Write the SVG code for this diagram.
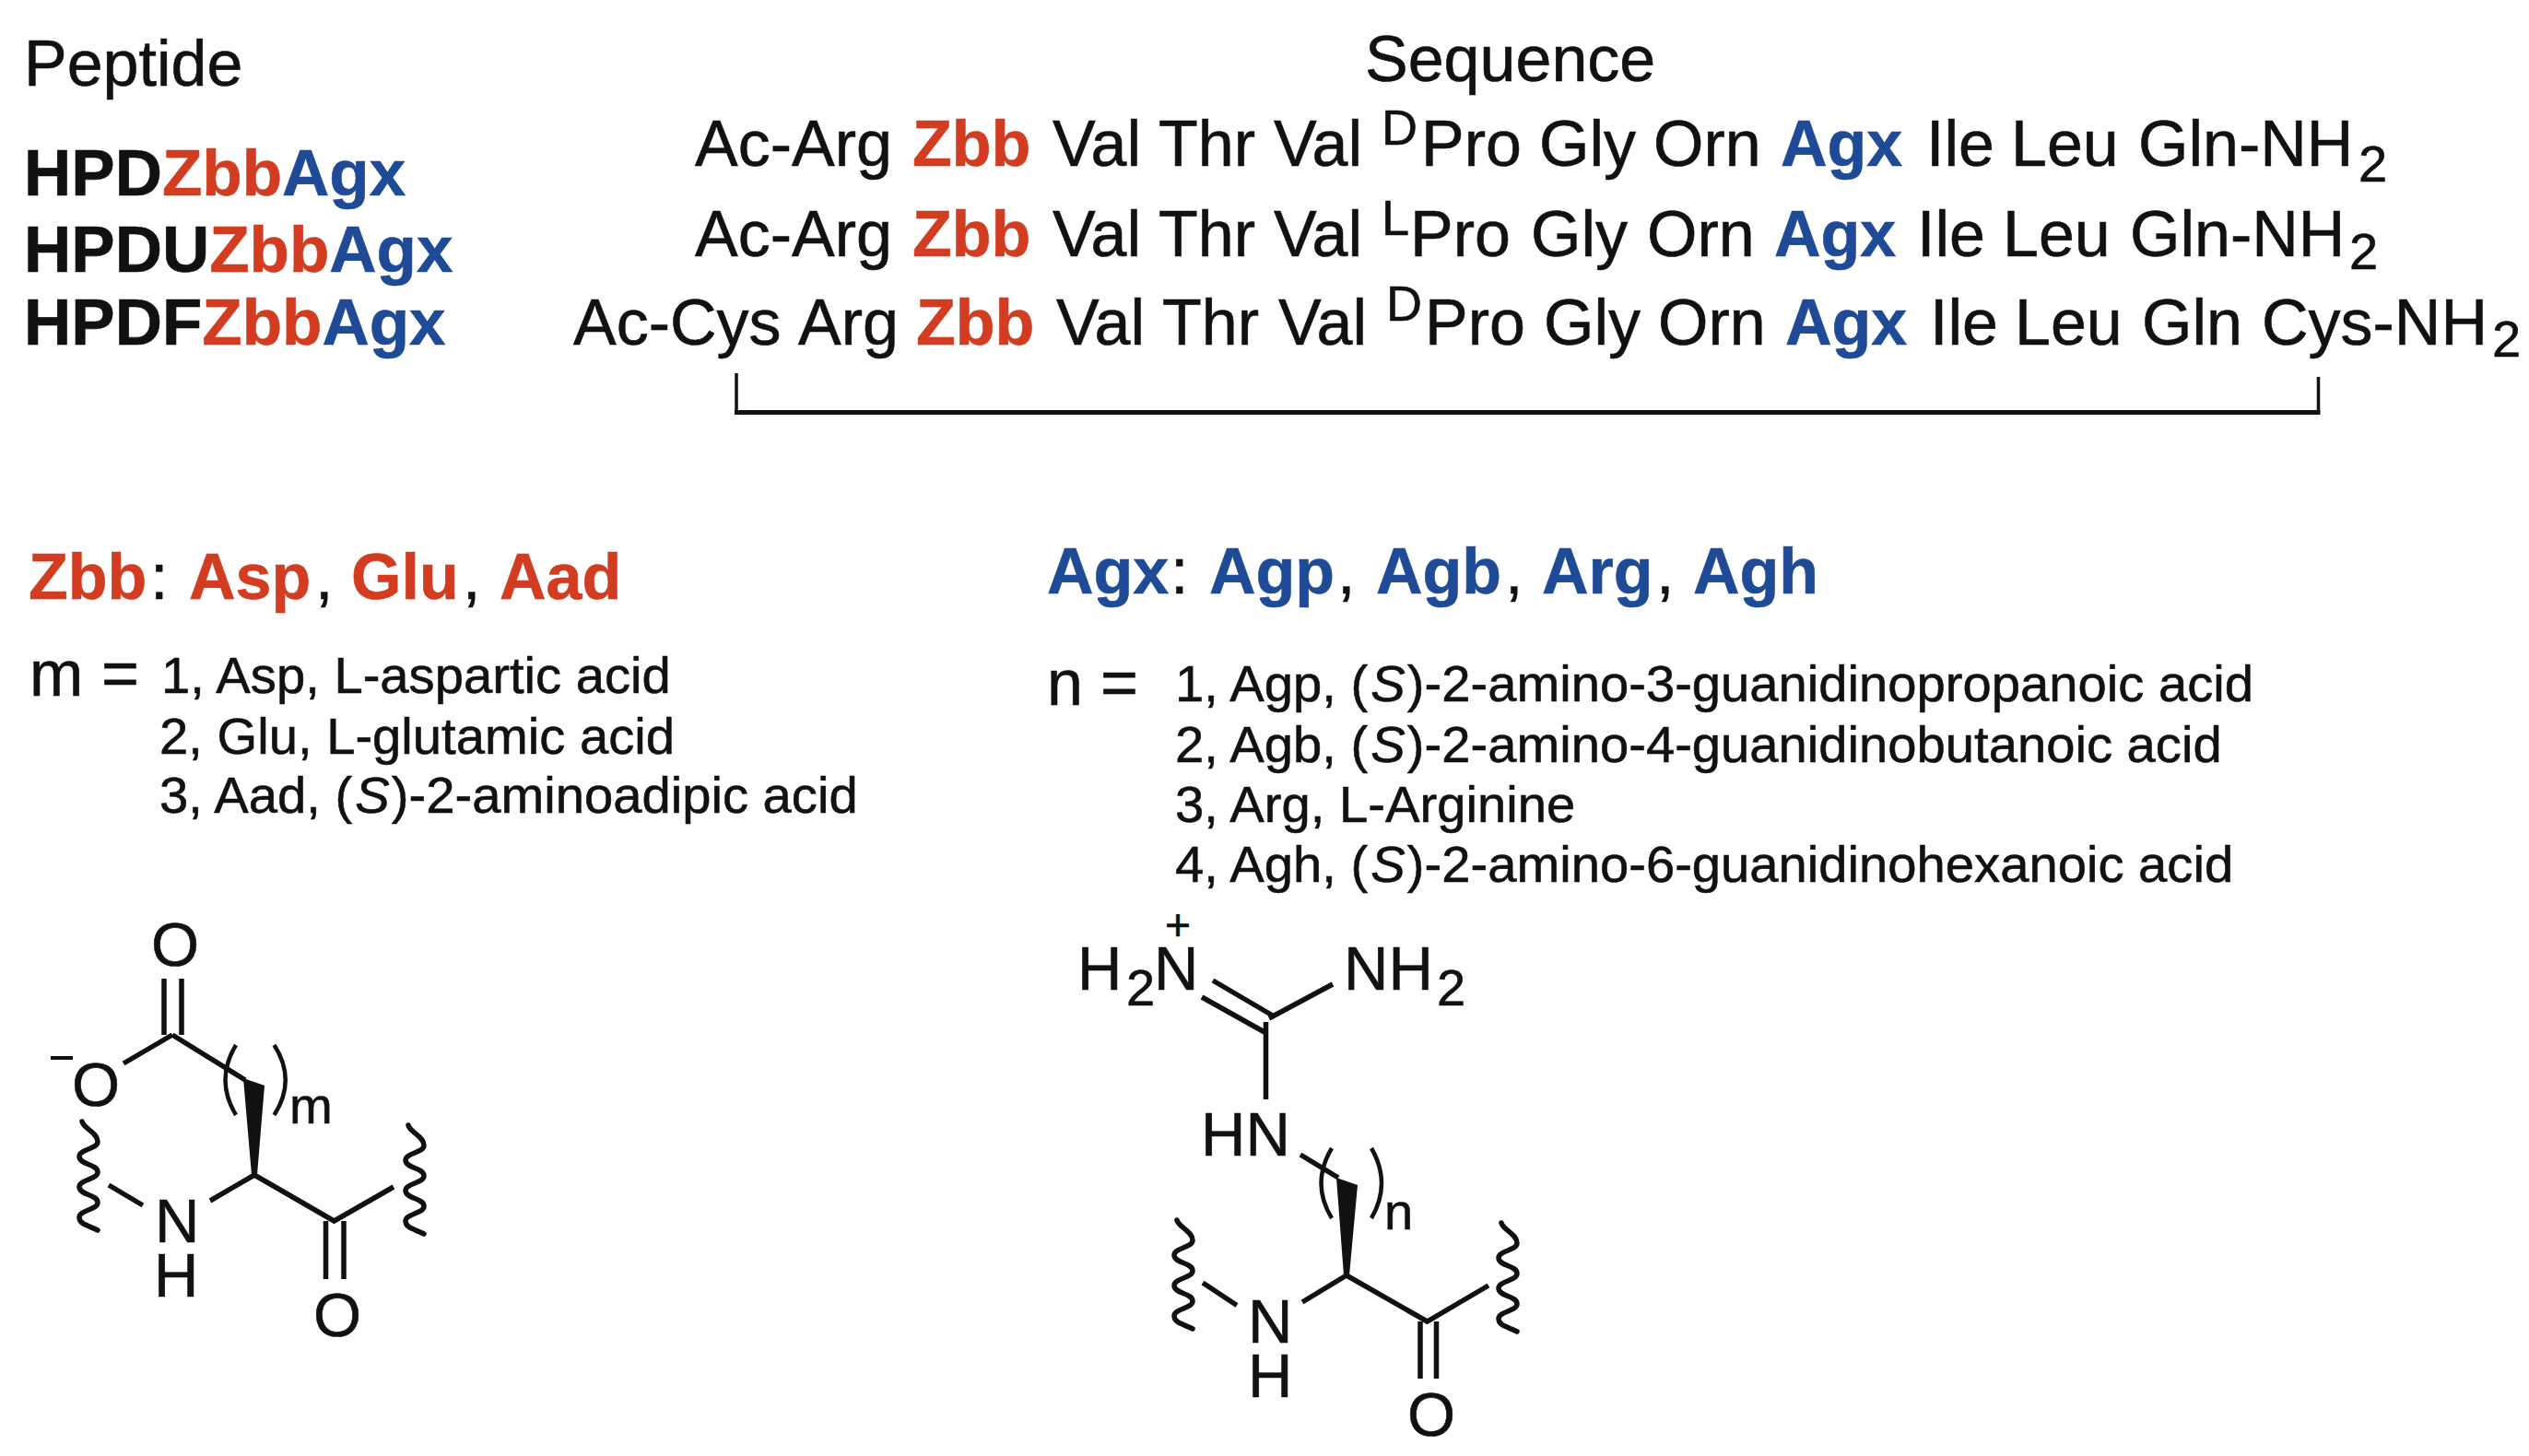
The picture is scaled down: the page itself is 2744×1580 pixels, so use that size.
<svg xmlns="http://www.w3.org/2000/svg" width="2744" height="1580" viewBox="0 0 2744 1580">
<defs>
<style>
text{font-family:"Liberation Sans",Arial,sans-serif;fill:#111;stroke:#111;stroke-width:.6}
.h{font-size:70px}
.b{font-size:71px;font-weight:700}
.r{fill:#D23C20;stroke:#D23C20;font-weight:700}
.u{fill:#1F4A96;stroke:#1F4A96;font-weight:700}
.s{font-size:70px}
.sup{font-size:54px}
.t{font-size:56.2px}
.a{font-size:67px}
.sub{font-size:56px}
.bond{stroke:#111;stroke-width:5.5;fill:none}
.paren{stroke:#111;stroke-width:4.5;fill:none}
.wav{stroke:#111;stroke-width:5.5;fill:none;stroke-linecap:round}
</style>
<path id="wavy" class="wav" d="M4 0C6 8 21 12 21 22C21 30 1 30 1 38C1 47 21 46 21 55C21 63 1 63 1 71C1 80 21 79 21 88C21 96 1 96 1 104C1 112 12 113 21 118"/>
</defs>
<rect width="2744" height="1580" fill="#fff"/>

<g id="headers">
<text class="h" x="26" y="93">Peptide</text>
<text class="h" x="1481" y="88">Sequence</text>
</g>

<g id="peptides">
<text class="b" x="26" y="212">HPD<tspan class="r">Zbb</tspan><tspan class="u">Agx</tspan></text>
<text class="b" x="26" y="295">HPDU<tspan class="r">Zbb</tspan><tspan class="u">Agx</tspan></text>
<text class="b" x="26" y="374">HPDF<tspan class="r">Zbb</tspan><tspan class="u">Agx</tspan></text>
</g>

<g id="seq1">
<text class="s" y="180"><tspan x="754">Ac-Arg</tspan><tspan x="990" class="r">Zbb</tspan><tspan x="1142">Val</tspan><tspan x="1257">Thr</tspan><tspan x="1382">Val</tspan><tspan x="1542">Pro</tspan><tspan x="1670">Gly</tspan><tspan x="1794">Orn</tspan><tspan x="1932" class="u">Agx</tspan><tspan x="2090">Ile</tspan><tspan x="2182">Leu</tspan><tspan x="2320">Gln-NH</tspan></text>
<text class="sup" x="1499" y="157">D</text>
<text class="sub" x="2559" y="197">2</text>
</g>
<g id="seq2">
<text class="s" y="278"><tspan x="754">Ac-Arg</tspan><tspan x="990" class="r">Zbb</tspan><tspan x="1142">Val</tspan><tspan x="1257">Thr</tspan><tspan x="1382">Val</tspan><tspan x="1530">Pro</tspan><tspan x="1661">Gly</tspan><tspan x="1787">Orn</tspan><tspan x="1925" class="u">Agx</tspan><tspan x="2080">Ile</tspan><tspan x="2173">Leu</tspan><tspan x="2311">Gln-NH</tspan></text>
<text class="sup" x="1499" y="255">L</text>
<text class="sub" x="2549" y="292">2</text>
</g>
<g id="seq3">
<text class="s" y="374"><tspan x="622">Ac-Cys</tspan><tspan x="866">Arg</tspan><tspan x="994" class="r">Zbb</tspan><tspan x="1146">Val</tspan><tspan x="1261">Thr</tspan><tspan x="1387">Val</tspan><tspan x="1546">Pro</tspan><tspan x="1675">Gly</tspan><tspan x="1799">Orn</tspan><tspan x="1937" class="u">Agx</tspan><tspan x="2094">Ile</tspan><tspan x="2186">Leu</tspan><tspan x="2324">Gln</tspan><tspan x="2454">Cys-NH</tspan></text>
<text class="sup" x="1504" y="348">D</text>
<text class="sub" x="2704" y="387">2</text>
</g>

<g id="connectors">
<path class="bond" style="stroke-width:3.5" d="M799 405V447M2515.5 409V447"/>
<path class="bond" style="stroke-width:5" d="M797 447.5H2517.5"/>
</g>

<g id="zbb-legend">
<text class="h" y="650"><tspan x="31" class="r">Zbb</tspan><tspan x="163">:</tspan><tspan x="205" class="r">Asp</tspan><tspan x="342">,</tspan><tspan x="381" class="r">Glu</tspan><tspan x="502">,</tspan><tspan x="542" class="r">Aad</tspan></text>
<text class="h" x="32" y="755">m</text>
<text class="h" x="110" y="755">=</text>
<text class="t" x="175" y="752">1, Asp, L-aspartic acid</text>
<text class="t" x="173" y="818">2, Glu, L-glutamic acid</text>
<text class="t" x="173" y="882">3, Aad, (<tspan dx="3" font-style="italic">S</tspan><tspan dx="2">)</tspan>-2-aminoadipic acid</text>
</g>

<g id="agx-legend">
<text class="h" y="644"><tspan x="1136" class="u">Agx</tspan><tspan x="1270">:</tspan><tspan x="1312" class="u">Agp</tspan><tspan x="1451">,</tspan><tspan x="1493" class="u">Agb</tspan><tspan x="1633">,</tspan><tspan x="1673" class="u">Arg</tspan><tspan x="1797">,</tspan><tspan x="1837" class="u">Agh</tspan></text>
<text class="h" x="1136" y="765">n</text>
<text class="h" x="1194" y="765">=</text>
<text class="t" x="1275" y="761">1, Agp, (<tspan dx="3" font-style="italic">S</tspan><tspan dx="2">)</tspan>-2-amino-3-guanidinopropanoic acid</text>
<text class="t" x="1275" y="827">2, Agb, (<tspan dx="3" font-style="italic">S</tspan><tspan dx="2">)</tspan>-2-amino-4-guanidinobutanoic acid</text>
<text class="t" x="1275" y="892">3, Arg, L-Arginine</text>
<text class="t" x="1275" y="957">4, Agh, (<tspan dx="3" font-style="italic">S</tspan><tspan dx="2">)</tspan>-2-amino-6-guanidinohexanoic acid</text>
</g>

<g id="zbb-structure">
<path class="bond" d="M178 1062V1123M197 1062V1123M187 1123L134 1154M187 1123L266 1172M118 1286L155 1308M228 1303L276 1275L362.5 1325L427 1288M353.5 1325V1388M373 1325V1388"/>
<path class="paren" d="M256 1134Q233 1172 256 1210M297.5 1134Q322 1172 297.5 1210"/>
<path fill="#111" d="M264 1170L287 1178L279 1275H273Z"/>
<path class="bond" style="stroke-width:4" d="M55 1148H79"/>
<use href="#wavy" x="85" y="1217"/>
<use href="#wavy" x="439" y="1221"/>
<text class="a" x="190" y="1048" text-anchor="middle">O</text>
<text class="a" x="104" y="1200" text-anchor="middle">O</text>
<text class="t" x="314" y="1219">m</text>
<text class="a" x="168" y="1348">N</text>
<text class="a" x="167" y="1407">H</text>
<text class="a" x="366" y="1450" text-anchor="middle">O</text>
</g>

<g id="agx-structure">
<path class="bond" d="M1316 1064L1382.5 1103M1304 1082L1372 1120M1377 1105L1446 1068M1373.5 1109V1193M1411 1253L1452 1278M1305 1392L1342 1416.5M1413 1413L1461 1384L1548.5 1434L1615 1395M1541 1434V1496M1558.5 1434V1496"/>
<path class="paren" d="M1445 1246Q1422 1284 1445 1322M1488 1246Q1510 1284 1488 1322"/>
<path fill="#111" d="M1450 1278L1473 1286L1464 1384H1458Z"/>
<use href="#wavy" x="1273" y="1324"/>
<use href="#wavy" x="1625" y="1327"/>
<text style="font-size:48px" x="1264" y="1020">+</text>
<text class="a" x="1169" y="1074">H</text>
<text class="sub" x="1222" y="1091">2</text>
<text class="a" x="1252" y="1074">N</text>
<text class="a" x="1458" y="1074">NH</text>
<text class="sub" x="1559" y="1091">2</text>
<text class="a" x="1303" y="1254">HN</text>
<text class="t" x="1502" y="1334">n</text>
<text class="a" x="1354" y="1457">N</text>
<text class="a" x="1354" y="1516">H</text>
<text class="a" x="1553" y="1558" text-anchor="middle">O</text>
</g>
</svg>
